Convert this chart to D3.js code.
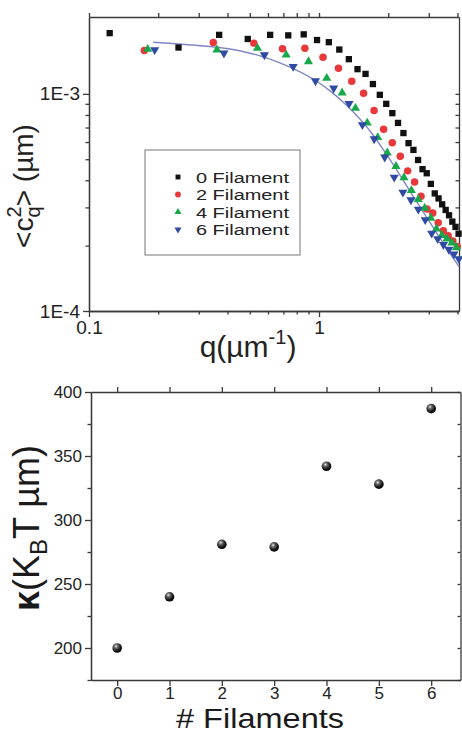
<!DOCTYPE html>
<html><head><meta charset="utf-8">
<script src="https://cdn.jsdelivr.net/npm/d3@7"></script>
<style>
body{margin:0;background:#fff;}
svg{display:block;font-family:"Liberation Sans",Arial,Helvetica,sans-serif;}
.ax path,.ax line{stroke:#3a3a3a;stroke-width:1.3;}
.ax text{fill:#222;}
</style></head><body>
<svg id="c" width="462" height="734"></svg>
<script>
// ---------- Top panel data: q (µm^-1) and <c_q^2> (µm) ----------
const q0 = [0.123,0.245,0.368,0.49,0.613,0.735,0.858,0.98,1.103,1.225,1.348,1.47,1.593,1.715,1.838,1.96,2.083,2.205,2.328,2.45,2.573,2.695,2.818,2.94,3.063,3.185,3.308,3.43,3.553,3.675,3.798,3.92,4.043];
const c0 = [1.905,1.635,1.87,1.79,1.87,1.86,1.88,1.77,1.73,1.60,1.445,1.30,1.236,1.11,0.99,0.90,0.815,0.735,0.66,0.593,0.552,0.496,0.45,0.431,0.385,0.348,0.33,0.31,0.292,0.276,0.258,0.244,0.227];
const q2 = [0.174,0.347,0.521,0.694,0.868,1.041,1.215,1.388,1.562,1.735,1.909,2.082,2.256,2.429,2.603,2.776,2.95,3.123,3.297,3.47,3.644,3.817,3.991];
const c2 = [1.583,1.724,1.713,1.612,1.624,1.476,1.311,1.144,1.007,0.839,0.688,0.596,0.516,0.442,0.393,0.338,0.295,0.283,0.255,0.234,0.222,0.21,0.198];
const q4 = [0.18,0.36,0.54,0.72,0.90,1.08,1.26,1.44,1.62,1.80,1.98,2.16,2.34,2.52,2.70,2.88,3.06,3.24,3.42,3.60,3.78,3.96];
const c4 = [1.607,1.595,1.624,1.512,1.409,1.181,1.011,0.859,0.735,0.63,0.535,0.464,0.412,0.359,0.327,0.298,0.268,0.239,0.223,0.215,0.206,0.196];
const q6 = [0.193,0.386,0.579,0.772,0.965,1.158,1.351,1.544,1.737,1.93,2.123,2.316,2.509,2.702,2.895,3.088,3.281,3.474,3.667,3.86,4.053];
const c6 = [1.595,1.54,1.512,1.336,1.148,1.062,0.902,0.72,0.62,0.511,0.413,0.352,0.325,0.294,0.263,0.228,0.215,0.202,0.192,0.183,0.174];
const cScale = 1e-3; // c values above are in units of 1E-3 µm
const fitQ = [0.19,0.28,0.41,0.55,0.68,0.98,1.12,1.32,1.56,1.72,1.90,2.11,2.49,3.04,3.70,4.06];
const fitC = [1.73,1.68,1.61,1.50,1.385,1.14,1.03,0.885,0.735,0.645,0.555,0.47,0.355,0.255,0.185,0.16];
const legendLabels = ["0 Filament","2 Filament","4 Filament","6 Filament"];
const xMajorTop = [0.1,1];
const xMinorTop = [0.2,0.3,0.4,0.5,0.6,0.7,0.8,0.9,2,3,4];
const yMajorTop = [1e-4,1e-3];
const yMinorTop = [2e-4,3e-4,4e-4,5e-4,6e-4,7e-4,8e-4,9e-4];
const xTickLabelsTop = ["0.1","1"];
const yTickLabelsTop = ["1E-4","1E-3"];

// ---------- Bottom panel data ----------
const filaments = [0,1,2,3,4,5,6];
const kappa = [200,240,281,279,342,328,387];
const yMajorBot = [200,250,300,350,400];
const yMinorBot = [175,225,275,325,375];

const svg = d3.select("#c");
const defs = svg.append("defs");
const g = defs.append("radialGradient").attr("id","ball").attr("cx","0.38").attr("cy","0.32").attr("r","0.7");
g.append("stop").attr("offset","0").attr("stop-color","#f0f0f0");
g.append("stop").attr("offset","0.25").attr("stop-color","#707070");
g.append("stop").attr("offset","0.7").attr("stop-color","#151515");
g.append("stop").attr("offset","1").attr("stop-color","#000");

// ================= TOP PANEL =================
const T = {l:89, r:459, t:17, b:311};
const xS = d3.scaleLog().domain([0.1,4.06]).range([T.l,T.r]);
const yS = d3.scaleLog().domain([1e-4,2.26e-3]).range([T.b,T.t]);

function axisG(gen, tx, ty){
  return svg.append("g").attr("class","ax").attr("transform",`translate(${tx},${ty})`).call(gen);
}
let a = axisG(d3.axisBottom(xS).tickValues(xMajorTop).tickSize(6).tickSizeOuter(0).tickPadding(4)
  .tickFormat((d,i)=>xTickLabelsTop[i]), 0, T.b);
a.selectAll("text").style("font-size","19px");
axisG(d3.axisBottom(xS).tickValues(xMinorTop).tickSize(3.5).tickSizeOuter(0).tickFormat(""),0,T.b);
axisG(d3.axisTop(xS).tickValues(xMajorTop.concat(xMinorTop)).tickSize(4).tickSizeOuter(0).tickFormat(""),0,T.t);
a = axisG(d3.axisLeft(yS).tickValues(yMajorTop).tickSize(6).tickSizeOuter(0).tickPadding(3)
  .tickFormat((d,i)=>yTickLabelsTop[i]), T.l, 0);
a.selectAll("text").style("font-size","19px");
axisG(d3.axisLeft(yS).tickValues(yMinorTop).tickSize(3.5).tickSizeOuter(0).tickFormat(""),T.l,0);
axisG(d3.axisRight(yS).tickValues(yMajorTop.concat(yMinorTop)).tickSize(-3.5).tickSizeOuter(0).tickFormat(""),T.r,0);

// fit line
const line = d3.line().x(d=>xS(d[0])).y(d=>yS(d[1]*cScale)).curve(d3.curveMonotoneX);
svg.append("path").datum(fitQ.map((q,i)=>[q,fitC[i]]))
  .attr("d",line).attr("fill","none").attr("stroke","#7f86c6").attr("stroke-width",1.4);

const series = [
  {q:q0,c:c0,color:"#111111",sym:d3.symbolSquare,size:40,rot:0},
  {q:q2,c:c2,color:"#e8383a",sym:d3.symbolCircle,size:44,rot:0},
  {q:q4,c:c4,color:"#17a84a",sym:d3.symbolTriangle,size:36,rot:0},
  {q:q6,c:c6,color:"#2e4aa3",sym:d3.symbolTriangle,size:36,rot:180},
];
series.forEach(s=>{
  svg.append("g").selectAll("path").data(s.q.map((q,i)=>[q,s.c[i]])).join("path")
    .attr("d",d3.symbol().type(s.sym).size(s.size))
    .attr("transform",d=>`translate(${xS(d[0])},${yS(d[1]*cScale)}) rotate(${s.rot})`)
    .attr("fill",s.color);
});

// legend
const lg = svg.append("g");
lg.append("rect").attr("x",145).attr("y",150).attr("width",155).attr("height",105)
  .attr("fill","#fff").attr("stroke","#777").attr("stroke-width",1);
series.forEach((s,i)=>{
  const y = 177 + i*17.5;
  lg.append("path").attr("d",d3.symbol().type(s.sym).size(s.size*0.6)())
    .attr("transform",`translate(178,${y}) rotate(${s.rot})`).attr("fill",s.color);
  lg.append("text").attr("x",196).attr("y",y+5.6).attr("font-size","15.5px")
    .attr("textLength",93).attr("lengthAdjust","spacingAndGlyphs")
    .attr("fill","#222").text(legendLabels[i]);
});

// axis titles (top)
const yt = svg.append("text").attr("transform","translate(33,186) rotate(-90)")
  .attr("text-anchor","middle").attr("font-size","28px").attr("fill","#222");
yt.append("tspan").text("<c");
yt.append("tspan").attr("font-size","20px").attr("dy",7).text("q");
yt.append("tspan").attr("font-size","20px").attr("dx",-11).attr("dy",-19).text("2");
yt.append("tspan").attr("dy",12).text(">");
yt.append("tspan").text(" (\u00b5m)");

const xt = svg.append("text").attr("x",248).attr("y",357).attr("text-anchor","middle")
  .attr("font-size","30px").attr("fill","#222");
xt.append("tspan").text("q(\u00b5m");
xt.append("tspan").attr("font-size","20px").attr("dy",-13).text("-1");
xt.append("tspan").attr("dy",13).text(")");

// ================= BOTTOM PANEL =================
const B = {l:91, r:460.5, t:392, b:680};
const xB = d3.scaleLinear().domain([-0.5,6.56]).range([B.l,B.r]);
const yB = d3.scaleLinear().domain([175,400]).range([B.b,B.t]);

a = axisG(d3.axisBottom(xB).tickValues(filaments).tickSize(6).tickSizeOuter(0).tickPadding(1)
  .tickFormat(d3.format("d")),0,B.b);
a.selectAll("text").style("font-size","17px");
axisG(d3.axisTop(xB).tickValues(filaments).tickSize(5).tickSizeOuter(0).tickFormat(""),0,B.t);
a = axisG(d3.axisLeft(yB).tickValues(yMajorBot).tickSize(6).tickSizeOuter(0).tickPadding(3)
  .tickFormat(d3.format("d")),B.l,0);
a.selectAll("text").style("font-size","17px");
axisG(d3.axisLeft(yB).tickValues(yMinorBot).tickSize(3.5).tickSizeOuter(0).tickFormat(""),B.l,0);
axisG(d3.axisRight(yB).tickValues(yMajorBot.concat(yMinorBot)).tickSize(-3).tickSizeOuter(0).tickFormat(""),B.r,0);

svg.append("g").selectAll("circle").data(filaments.map((f,i)=>[f,kappa[i]])).join("circle")
  .attr("cx",d=>xB(d[0])).attr("cy",d=>yB(d[1])).attr("r",4.8).attr("fill","url(#ball)");

const yb = svg.append("text").attr("transform","translate(39,528) rotate(-90)")
  .attr("text-anchor","middle").attr("font-size","36px").attr("fill","#1a1a1a");
yb.append("tspan").attr("font-weight","bold").text("\u03ba");
yb.append("tspan").text("(K");
yb.append("tspan").attr("font-size","24px").attr("dy",8).text("B");
yb.append("tspan").attr("dy",-8).text("T \u00b5m)");

svg.append("text").attr("x",260).attr("y",728.2).attr("text-anchor","middle")
  .attr("font-size","27.5px").attr("textLength",168).attr("lengthAdjust","spacingAndGlyphs")
  .attr("fill","#1a1a1a").text("# Filaments");
</script>
</body></html>
